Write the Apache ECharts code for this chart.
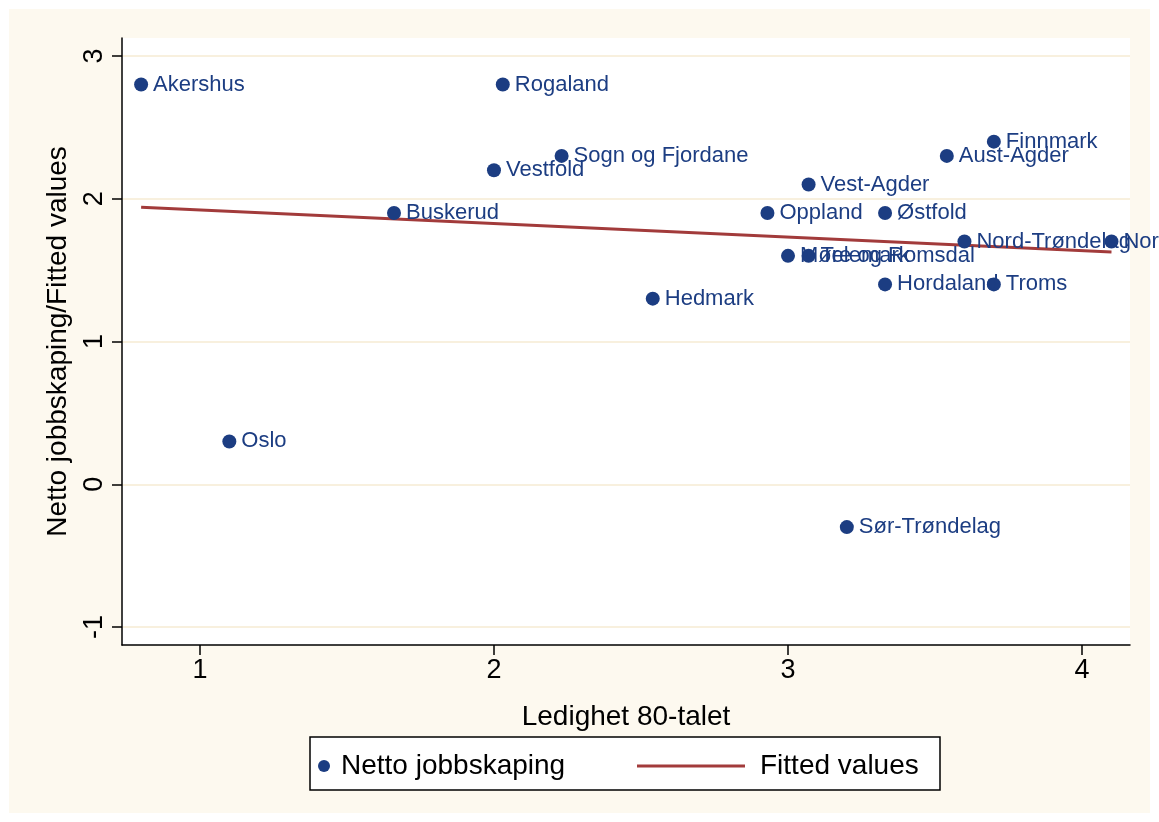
<!DOCTYPE html>
<html>
<head>
<meta charset="utf-8">
<script src="https://cdn.jsdelivr.net/npm/echarts@6/dist/echarts.min.js"></script>
<style>
  html, body { margin: 0; padding: 0; background: #fff; }
  #chart { width: 1159px; height: 822px; }
</style>
</head>
<body>
<div id="chart"></div>
<script>
// fylker, ledighet på 80-talet og netto jobbskaping
const counties = ['Akershus', 'Rogaland', 'Sogn og Fjordane', 'Vestfold', 'Buskerud', 'Oppland',
  'Vest-Agder', 'Østfold', 'Aust-Agder', 'Finnmark', 'Nord-Trøndelag', 'Nordland',
  'Møre og Romsdal', 'Telemark', 'Hordaland', 'Troms', 'Hedmark', 'Oslo', 'Sør-Trøndelag'];
const ledighet = [0.80, 2.03, 2.23, 2.00, 1.66, 2.93, 3.07, 3.33, 3.54, 3.70, 3.60, 4.10,
  3.00, 3.07, 3.33, 3.70, 2.54, 1.10, 3.20];
const jobbskaping = [2.8, 2.8, 2.3, 2.2, 1.9, 1.9, 2.1, 1.9, 2.3, 2.4, 1.7, 1.7,
  1.6, 1.6, 1.4, 1.4, 1.3, 0.3, -0.3];

// fitted values (endepunkt av regresjonslinja)
const fitX = [0.80, 4.10];
const fitY = [1.94, 1.627];

const xTicks = [1, 2, 3, 4];
const yTicks = [-1, 0, 1, 2, 3];

const font = "'Liberation Sans', Arial, sans-serif";
const navy = '#1c3d82';
const maroon = '#a23b3b';

const scatterData = counties.map((name, i) => ({ name: name, value: [ledighet[i], jobbskaping[i]] }));
const fitData = fitX.map((x, i) => [x, fitY[i]]);

var chart = echarts.init(document.getElementById('chart'));
chart.setOption({
  animation: false,
  backgroundColor: '#ffffff',
  textStyle: { fontFamily: font },
  graphic: [
    {
      type: 'rect', z: -10, silent: true,
      shape: { x: 9, y: 9, width: 1141, height: 804 },
      style: { fill: '#fdf9ef' }
    },
    {
      type: 'rect', z: 1, silent: true,
      shape: { x: 310, y: 737, width: 630, height: 53 },
      style: { fill: '#ffffff', stroke: '#000', lineWidth: 1.5 }
    }
  ],
  grid: {
    left: 122, right: 29, top: 38, bottom: 177,
    show: true, backgroundColor: '#ffffff', borderWidth: 0
  },
  legend: [
    {
      data: ['Netto jobbskaping'],
      left: 313, top: 747, z: 5,
      itemWidth: 24, itemHeight: 12,
      itemStyle: { opacity: 1 },
      textStyle: { fontSize: 28, color: '#000', fontFamily: font }
    },
    {
      data: [{ name: 'Fitted values', icon: 'rect' }],
      left: 632, top: 747, z: 5,
      itemWidth: 108, itemHeight: 3,
      symbolKeepAspect: false,
      textStyle: { fontSize: 28, color: '#000', fontFamily: font, padding: [0, 0, 0, 10] }
    }
  ],
  xAxis: {
    type: 'value',
    min: 0.735, max: 4.163,
    name: 'Ledighet 80-talet',
    nameLocation: 'middle',
    nameGap: 58,
    nameTextStyle: { fontSize: 28, color: '#000', fontFamily: font },
    axisLine: { onZero: false, lineStyle: { color: '#000', width: 1.5 } },
    axisTick: { customValues: xTicks, length: 10, lineStyle: { color: '#000', width: 1.5 } },
    axisLabel: { customValues: xTicks, fontSize: 27, color: '#000', margin: 12 },
    splitLine: { show: false }
  },
  yAxis: {
    type: 'value',
    min: -1.126, max: 3.126,
    name: 'Netto jobbskaping/Fitted values',
    nameLocation: 'middle',
    nameGap: 50,
    nameRotate: 90,
    nameTextStyle: { fontSize: 28, color: '#000', fontFamily: font },
    axisLine: { show: true, onZero: false, lineStyle: { color: '#000', width: 1.5 } },
    axisTick: { show: true, customValues: yTicks, length: 10, lineStyle: { color: '#000', width: 1.5 } },
    axisLabel: { customValues: yTicks, fontSize: 27, color: '#000', rotate: 90, margin: 14 },
    splitLine: { show: false }
  },
  series: [
    {
      name: 'Netto jobbskaping',
      type: 'scatter',
      symbol: 'circle',
      symbolSize: 14,
      itemStyle: { color: navy, opacity: 1 },
      data: scatterData,
      label: {
        show: true,
        position: 'right',
        distance: 5,
        formatter: p => p.name,
        fontSize: 22,
        color: navy,
        fontFamily: font
      },
      markLine: {
        silent: true,
        symbol: 'none',
        label: { show: false },
        lineStyle: { color: '#f8f0de', width: 2, type: 'solid' },
        z: 0,
        data: yTicks.map(v => ({ yAxis: v }))
      },
      z: 3
    },
    {
      name: 'Fitted values',
      type: 'line',
      showSymbol: false,
      symbol: 'none',
      data: fitData,
      lineStyle: { color: maroon, width: 3 },
      itemStyle: { color: maroon },
      z: 2
    }
  ]
});
</script>
</body>
</html>
